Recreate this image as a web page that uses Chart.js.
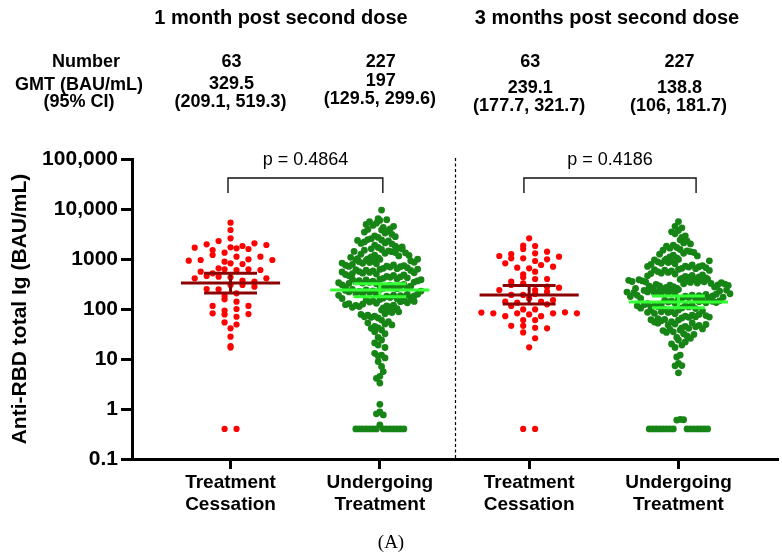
<!DOCTYPE html>
<html>
<head>
<meta charset="utf-8">
<script src="https://cdn.jsdelivr.net/npm/chart.js@4.4.0/dist/chart.umd.min.js"></script>
<style>
  html, body { margin: 0; padding: 0; background: #fff; }
  #wrap { width: 782px; height: 557px; position: relative; }
</style>
</head>
<body>
<div id="wrap"><canvas id="chart"></canvas></div>
<script>
"use strict";

// ---- data ----
const categories = [["Treatment", "Cessation"], ["Undergoing", "Treatment"], ["Treatment", "Cessation"], ["Undergoing", "Treatment"]];
const periodTitles = ["1 month post second dose", "3 months post second dose"];
const groupN = [63, 227, 63, 227];
const gmtLabels = ["329.5", "197", "239.1", "138.8"];
const ciLabels = ["(209.1, 519.3)", "(129.5, 299.6)", "(177.7, 321.7)", "(106, 181.7)"];
const pLabels = ["p = 0.4864", "p = 0.4186"];
const yTicks = [0.1, 1, 10, 100, 1000, 10000, 100000];

// plotted centre line and interval of each group
const barMid = [329.5, 240, 190, 138.8];
const barLow = [209.1, 176, 126, 106];
const barHigh = [519.3, 320, 295, 181.7];

const cessation1m = [
	5330, 3800, 28,
	1710, 1114, 819, 603, 430, 302, 206, 140, 100, 70, 49, 16.9, 0.4,
	1635, 885, 302, 156, 78, 41, 18.2, 0.4,
	2590, 1820, 1340, 985, 622, 369, 247, 93, 54,
	2290, 1585, 1202, 622, 443, 280, 182, 115, 79,
	2060, 1514, 1114, 794, 517, 352, 251, 115, 82,
	1965, 955, 603, 457,
	1905, 955, 651, 411,
	1686, 926, 558, 411
];

const undergoing1m = [
	9500, 6400,
	5900, 4300, 5200, 6100, 4700, 4000, 5600, 4500, 4900,
	3800, 2700, 3300, 2900, 3600, 2550, 3100, 3900, 2800, 3450,
	2400, 1700, 2100, 1900, 2300, 1600, 2000, 2450, 1800, 2200, 1650, 2050, 1750, 2350,
	1550, 1050, 1300, 1200, 1450, 1100, 1400, 1000, 1350, 1500, 1150, 1250, 1580, 1020, 1320, 1420, 1180, 1080,
	980, 650, 800, 720, 900, 690, 850, 760, 940, 640, 820, 700, 880, 740, 960, 670, 780, 920, 710, 860, 750, 990, 830,
	620, 410, 500, 450, 580, 430, 540, 470, 600, 400, 520, 440, 560, 480, 610, 420, 510, 590, 460, 530, 490, 625, 550,
	390, 260, 320, 280, 360, 300, 340, 270, 380, 255, 330, 290, 370, 310, 350, 265, 395, 285, 325, 345, 275, 365, 305, 385, 335,
	245, 165, 200, 180, 230, 170, 215, 190, 240, 160, 205, 185, 225, 175, 210, 195, 248, 168, 220, 182, 235, 198, 162, 228, 188,
	155, 105, 130, 115, 145, 110, 138, 120, 150, 102, 125, 140, 112, 148, 118, 133, 108, 152, 128, 142, 122,
	95, 66, 80, 72, 90, 68, 85, 75, 98, 70, 88, 78,
	60, 42, 50, 45, 56, 41, 48, 53,
	38, 27, 32, 35,
	24, 19, 17, 21,
	12, 11.5, 10.5, 13,
	7.1, 8.9,
	4.5, 5.6, 4.1,
	3.3,
	1.24, 0.87, 0.76, 0.8,
	0.48, 0.4, 0.4, 0.4, 0.4, 0.4, 0.4, 0.4, 0.4, 0.4, 0.4, 0.4, 0.4, 0.4, 0.4
];

const cessation3m = [
	2590, 1820, 1298, 912, 651, 398, 240, 163, 78, 60, 42, 26, 17.1, 0.4,
	0.4,
	1585, 1031, 759, 558, 430, 326, 200, 140, 98, 72, 46, 34,
	985, 671, 398, 280, 191, 134, 82, 41,
	1402, 1031, 703, 302, 222, 151, 82, 60,
	1849, 1114, 819, 494, 352, 267, 191, 140, 98, 72, 46,
	1148, 240, 86,
	1259, 124, 82,
	115, 82,
	85
];

const undergoing3m = [
	5600, 4200, 4500,
	3700, 2700, 3200, 2900, 3500,
	2400, 1700, 2100, 1900, 2300, 1650, 2000, 1800,
	1550, 1050, 1300, 1200, 1450, 1100, 1400, 1000, 1350, 1500, 1150, 1250,
	980, 650, 800, 720, 900, 690, 850, 760, 940, 640, 820, 700, 880, 740, 960, 670, 780, 920, 710,
	620, 410, 500, 450, 580, 430, 540, 470, 600, 400, 520, 440, 560, 480, 610, 420, 510, 590, 460,
	390, 260, 320, 280, 360, 300, 340, 270, 380, 255, 330, 290, 370, 310, 350, 265, 395, 285, 325, 345, 275, 365, 305, 385, 335, 258, 315, 355, 295, 375,
	245, 165, 200, 180, 230, 170, 215, 190, 240, 160, 205, 185, 225, 175, 210, 195, 248, 168, 220, 182, 235, 198, 162, 228, 188, 172, 212, 238, 178, 202, 218,
	155, 105, 130, 115, 145, 110, 138, 120, 150, 102, 125, 140, 112, 148, 118, 133, 108, 152, 128, 142, 122, 135, 104, 146, 116,
	95, 66, 80, 72, 90, 68, 85, 75, 98, 70, 88, 78, 64, 92, 82, 74, 96, 69, 86,
	60, 42, 50, 45, 56, 41, 48, 53, 62, 44, 58, 47, 52, 40, 55, 49, 61,
	38, 27, 32, 35, 29, 39, 26, 34, 31, 37,
	24, 19, 17, 22, 20,
	12, 11,
	8.2, 7.4, 7.3,
	5.3,
	0.62, 0.6, 0.61,
	0.4, 0.4, 0.4, 0.4, 0.4, 0.4, 0.4, 0.4, 0.4, 0.4, 0.4, 0.4, 0.4, 0.4, 0.4
];

// ---- styles ----
const FONT = "'Liberation Sans', Arial, sans-serif";
const RED = "#ff0000";
const GREEN = "#168516";
const barColors = ["#8b0000", "#33ff33", "#8b0000", "#33ff33"];

// Prism-like scatter: points binned into rows (log decades), spread out from the centre
function swarm(values, center, bin, step) {
	const keys = values.map(v => Math.floor(Math.log10(v) / bin + 1e-6));
	const count = {};
	const used = {};
	keys.forEach(k => { count[k] = (count[k] || 0) + 1; });

	return values.map((v, i) => {
		const k = keys[i];
		const n = count[k];
		const j = used[k] || 0;
		used[k] = j + 1;
		const slots = [];
		for (let s = 0; s < n; s++) slots.push(s - (n - 1) / 2);
		slots.sort((a, b) => Math.abs(a) - Math.abs(b) || b - a);
		return { x: center + slots[j] * step, y: v };
	});
}

function tickLabel(v) {
	if (v >= 10000) return v.toLocaleString("en-US");
	return String(v);
}

const decor = {
	id: "decor",
	afterDatasetsDraw(chart) {
		const { ctx, scales: { x, y } } = chart;
		ctx.save();
		ctx.lineWidth = 3;
		barMid.forEach((m, i) => {
			const cx = x.getPixelForValue(i);
			const half = x.getPixelForValue(i + 0.332) - cx;
			const cap = x.getPixelForValue(i + 0.177) - cx;
			const ym = y.getPixelForValue(m);
			const yl = y.getPixelForValue(barLow[i]);
			const yh = y.getPixelForValue(barHigh[i]);
			ctx.strokeStyle = barColors[i];
			ctx.beginPath();
			ctx.moveTo(cx - half, ym); ctx.lineTo(cx + half, ym);
			ctx.moveTo(cx - cap, yl); ctx.lineTo(cx + cap, yl);
			ctx.moveTo(cx - cap, yh); ctx.lineTo(cx + cap, yh);
			ctx.moveTo(cx, yl); ctx.lineTo(cx, yh);
			ctx.stroke();
		});
		ctx.restore();
	},
	afterDraw(chart) {
		const { ctx, scales: { x }, chartArea } = chart;
		ctx.save();
		ctx.fillStyle = "#000";
		ctx.textAlign = "center";
		ctx.textBaseline = "middle";

		// period titles
		ctx.font = "bold 20px " + FONT;
		ctx.fillText(periodTitles[0], 281, 18);
		ctx.fillText(periodTitles[1], 607, 18);

		// table rows
		ctx.font = "bold 18px " + FONT;
		ctx.fillText("Number", 86, 62);
		ctx.fillText("GMT (BAU/mL)", 79, 85);
		ctx.fillText("(95% CI)", 79, 102);
		const rowShift = [0, -3, 4, 4];
		groupN.forEach((n, i) => {
			const cx = x.getPixelForValue(i) + 1;
			ctx.fillText(String(n), cx, 62);
			ctx.fillText(gmtLabels[i], cx, 84 + rowShift[i]);
			ctx.fillText(ciLabels[i], cx - 1, 102 + rowShift[i]);
		});

		// comparison brackets
		const spans = [[-0.017, 1.02], [1.965, 3.118]];
		ctx.strokeStyle = "#111";
		ctx.lineWidth = 1.4;
		ctx.font = "18px " + FONT;
		spans.forEach((s, i) => {
			const x0 = x.getPixelForValue(s[0]);
			const x1 = x.getPixelForValue(s[1]);
			ctx.beginPath();
			ctx.moveTo(x0, 193); ctx.lineTo(x0, 178); ctx.lineTo(x1, 178); ctx.lineTo(x1, 193);
			ctx.stroke();
			ctx.fillText(pLabels[i], (x0 + x1) / 2, 160);
		});

		// divider between time points
		const xd = Math.round(x.getPixelForValue(1.5)) + 0.5;
		ctx.setLineDash([3, 2.5]);
		ctx.lineWidth = 1.2;
		ctx.strokeStyle = "#000";
		ctx.beginPath();
		ctx.moveTo(xd, 158);
		ctx.lineTo(xd, chartArea.bottom);
		ctx.stroke();
		ctx.setLineDash([]);

		// panel caption
		ctx.font = "19px 'Liberation Serif', 'Times New Roman', serif";
		ctx.fillText("(A)", 391, 543);
		ctx.restore();
	}
};

function pointSet(values, center, bin, step, color, r) {
	return {
		data: swarm(values, center, bin, step),
		backgroundColor: color,
		pointBackgroundColor: color,
		pointBorderWidth: 0,
		pointRadius: r,
		pointHoverRadius: r
	};
}

new Chart(document.getElementById("chart"), {
	type: "scatter",
	data: {
		datasets: [
			pointSet(cessation1m, 0, 0.14, 0.08, RED, 3.1),
			pointSet(undergoing1m, 1, 0.2, 0.023, GREEN, 3.4),
			pointSet(cessation3m, 2, 0.14, 0.08, RED, 3.1),
			pointSet(undergoing3m, 3, 0.2, 0.023, GREEN, 3.4)
		]
	},
	options: {
		responsive: true,
		maintainAspectRatio: false,
		animation: false,
		events: [],
		layout: { padding: { top: 159, right: 5, left: 0, bottom: 0 } },
		plugins: {
			legend: { display: false },
			tooltip: { enabled: false }
		},
		scales: {
			x: {
				type: "linear",
				min: -0.66,
				max: 3.66,
				afterBuildTicks: (s) => { s.ticks = categories.map((_, i) => ({ value: i })); },
				afterFit: (s) => { s.height = 98; },
				ticks: {
					autoSkip: false,
					maxRotation: 0,
					padding: 2,
					color: "#000",
					font: { family: FONT, size: 19, weight: "bold" },
					callback: (v) => categories[v]
				},
				grid: { drawOnChartArea: false, drawTicks: true, tickLength: 10, lineWidth: 3, color: "#000" },
				border: { display: true, width: 3, color: "#000" }
			},
			y: {
				type: "logarithmic",
				min: 0.1,
				max: 100000,
				afterBuildTicks: (s) => { s.ticks = yTicks.map(v => ({ value: v, major: true })); },
				afterFit: (s) => { s.width = 132; },
				ticks: {
					autoSkip: false,
					padding: 3,
					color: "#000",
					font: { family: FONT, size: 21, weight: "bold" },
					callback: (v) => tickLabel(v)
				},
				grid: { drawOnChartArea: false, drawTicks: true, tickLength: 11, lineWidth: 3, color: "#000" },
				border: { display: true, width: 3, color: "#000" },
				title: {
					display: true,
					text: "Anti-RBD total Ig (BAU/mL)",
					color: "#000",
					font: { family: FONT, size: 21, weight: "bold" },
					padding: { top: 8, bottom: 0 }
				}
			}
		}
	},
	plugins: [decor]
});
</script>
</body>
</html>
